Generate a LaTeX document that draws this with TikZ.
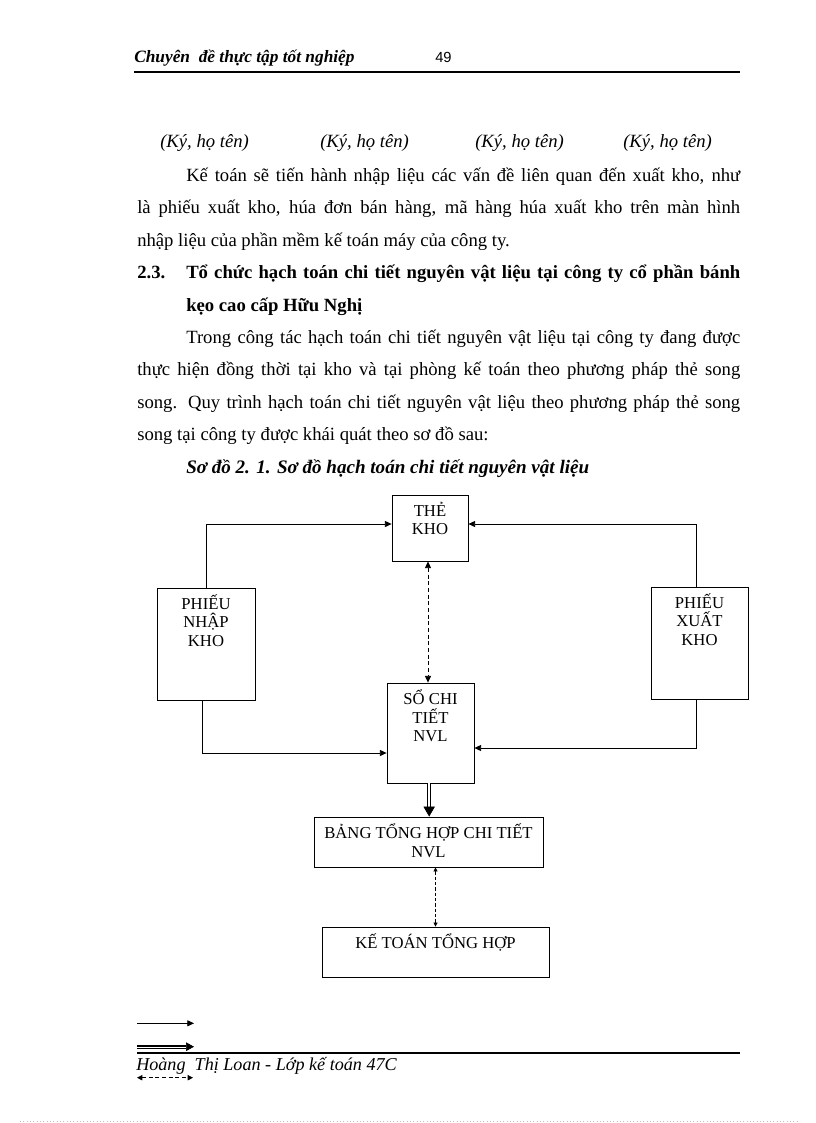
\documentclass[tikz,border=0pt]{standalone}
\usepackage{fontspec}
\setmainfont{Liberation Serif}
\newfontfamily\hsans{Liberation Sans}
\usetikzlibrary{arrows.meta}
\begin{document}
\begin{tikzpicture}[x=0.75pt,y=-0.75pt,
  box/.style={draw, line width=0.6pt, inner sep=0pt, rectangle},
  boxtxt/.style={font=\fontsize{12.5}{14}\selectfont, align=center, inner sep=0pt, anchor=north, yshift=-5pt},
  body/.style={font=\fontsize{14}{16}\selectfont, inner sep=0pt, anchor=base west},
  bodyb/.style={font=\fontsize{14}{16}\selectfont\bfseries, inner sep=0pt, anchor=base west},
  bodyi/.style={font=\fontsize{14}{16}\selectfont\itshape, inner sep=0pt, anchor=base west},
  arr/.style={line width=0.6pt, -{Triangle[length=5pt,width=4.5pt]}},
  dda/.style={line width=0.6pt, dash pattern=on 3pt off 2pt, {Triangle[length=5pt,width=4.5pt]}-{Triangle[length=5pt,width=4.5pt]}},
  ddsmall/.style={line width=0.5pt, dash pattern=on 2.5pt off 1.5pt, {Triangle[length=3pt,width=3pt]}-{Triangle[length=3pt,width=3pt]}},
  dbl/.style={line width=0.75pt, double, double distance=1.1pt},
  bigtip/.style={line width=0.5pt, -{Triangle[length=7.5pt,width=8.5pt]}},
]
\useasboundingbox (0,0) rectangle (816,1123);

% header
\node[anchor=base west, inner sep=0pt, font=\fontsize{13}{15}\selectfont\bfseries\itshape] (htitle) at (134,63) {Chuyên\ \ đề thực tập tốt nghiệp};
\node[anchor=base west, inner sep=0pt, font=\hsans\fontsize{11}{13}\selectfont] (hpage) at (435,63) {49};
\coordinate (hl1) at (134,71.7);
\coordinate (hl2) at (740,71.7);
\draw[line width=1.3pt] (hl1) -- (hl2);

% signatures
\node[bodyi] (k1) at (160,148) {(Ký, họ tên)};
\node[bodyi] (k2) at (320,148) {(Ký, họ tên)};
\node[bodyi] (k3) at (475,148) {(Ký, họ tên)};
\node[bodyi] (k4) at (623,148) {(Ký, họ tên)};

% body text
\node[body] (l1) at (186,181.5) {\makebox[415.5pt][s]{Kế toán sẽ tiến hành nhập liệu các vấn đề liên quan đến xuất kho, như}};
\node[body] (l2) at (137,213.9) {\makebox[452.25pt][s]{là phiếu xuất kho, húa đơn bán hàng, mã hàng húa xuất kho trên màn hình}};
\node[body] (l3) at (137,246.3) {nhập liệu của phần mềm kế toán máy của công ty.};
\node[bodyb] (h1) at (137,278.7) {2.3.};
\node[bodyb] (h2) at (186,278.7) {\makebox[415.5pt][s]{Tổ chức hạch toán chi tiết nguyên vật liệu tại công ty cổ phần bánh}};
\node[bodyb] (h3) at (186,311.1) {kẹo cao cấp Hữu Nghị};
\node[body] (p1) at (186,343.5) {\makebox[415.5pt][s]{Trong công tác hạch toán chi tiết nguyên vật liệu tại công ty đang được}};
\node[body] (p2) at (137,375.9) {\makebox[452.25pt][s]{thực hiện đồng thời tại kho và tại phòng kế toán theo phương pháp thẻ song}};
\node[body] (p3) at (137,408.3) {\makebox[452.25pt][s]{song. Quy trình hạch toán chi tiết nguyên vật liệu theo phương pháp thẻ song}};
\node[body] (p4) at (137,440.7) {song tại công ty được khái quát theo sơ đồ sau:};
\node[body, font=\fontsize{14.3}{16}\selectfont\bfseries\itshape] (cap) at (186,473.1) {Sơ đồ 2. 1. Sơ đồ hạch toán chi tiết nguyên vật liệu};

% diagram boxes
\node[box, minimum width=57pt, minimum height=49.5pt,
  label={[boxtxt]north:{THẺ\vphantom{Ế}\\KHO}}] (tk) at (430,528) {};
\node[box, minimum width=73.5pt, minimum height=84pt,
  label={[boxtxt]north:{PHIẾU\vphantom{Ế}\\NHẬP\\KHO}}] (pn) at (206,644) {};
\node[box, minimum width=65.25pt, minimum height=75pt,
  label={[boxtxt]north:{SỔ CHI\vphantom{Ế}\\TIẾT\\NVL}}] (sc) at (430.5,733) {};
\node[box, minimum width=72.75pt, minimum height=84pt,
  label={[boxtxt]north:{PHIẾU\vphantom{Ế}\\XUẤT\\KHO}}] (px) at (699.5,643) {};
\node[box, minimum width=171.75pt, minimum height=37.5pt,
  label={[boxtxt]north:{BẢNG TỔNG HỢP CHI TIẾT\vphantom{Ế}\\NVL}}] (bg) at (428.5,842) {};
\node[box, minimum width=170.25pt, minimum height=37.5pt,
  label={[boxtxt]north:{KẾ TOÁN TỔNG HỢP\vphantom{Ế}}}] (kt) at (435.5,952) {};

% connectors
\draw[arr] (pn.north) |- ([yshift=3pt]tk.west);
\draw[arr] ([xshift=-2.6pt]px.north) |- ([yshift=3pt]tk.east);
\draw[arr] ([xshift=-3pt]pn.south) |- ([yshift=-15pt]sc.west);
\draw[arr] ([xshift=-2.6pt]px.south) |- ([yshift=-11.25pt]sc.east);
\draw[dda] ([xshift=-1.5pt]tk.south) -- ([xshift=-1.5pt]tk.south |- sc.north);
\draw[dbl] ([xshift=-1pt]sc.south) -- ([xshift=-1pt,yshift=6pt]sc.south |- bg.north);
\draw[bigtip] ([xshift=-1pt,yshift=7.5pt]sc.south |- bg.north) -- ([xshift=-1pt]sc.south |- bg.north);
\draw[ddsmall] (kt.north |- bg.south) -- (kt.north);

% legend
\coordinate (a1) at (137,1023.3);
\coordinate (a2) at (194,1023.3);
\draw[arr] (a1) -- (a2);
\coordinate (b1) at (137,1046.7);
\coordinate (b2) at (186,1046.7);
\coordinate (b3) at (194,1046.7);
\draw[line width=0.6pt, double, double distance=1.6pt] (b1) -- (b2);
\draw[line width=0.6pt] (b1) -- (b2);
\draw[line width=0.5pt, -{Triangle[length=6pt,width=6.5pt]}] ([xshift=-1pt]b2) -- (b3);
\coordinate (c1) at (137,1077.7);
\coordinate (c2) at (193,1077.7);
\draw[dda, {Triangle[length=4pt,width=4pt]}-{Triangle[length=4pt,width=4pt]}] (c1) -- (c2);

% footer
\coordinate (fl1) at (137,1052.7);
\coordinate (fl2) at (740,1052.7);
\draw[line width=1.3pt] (fl1) -- (fl2);
\node[bodyi, font=\fontsize{13.6}{16}\selectfont\itshape] (ftext) at (136,1070) {Hoàng\ \ Thị Loan - Lớp kế toán 47C};

% bottom dotted page edge
\coordinate (d1) at (20,1121);
\coordinate (d2) at (800,1121);
\draw[gray!50, line width=0.5pt, dotted] (d1) -- (d2);
\end{tikzpicture}
\end{document}
